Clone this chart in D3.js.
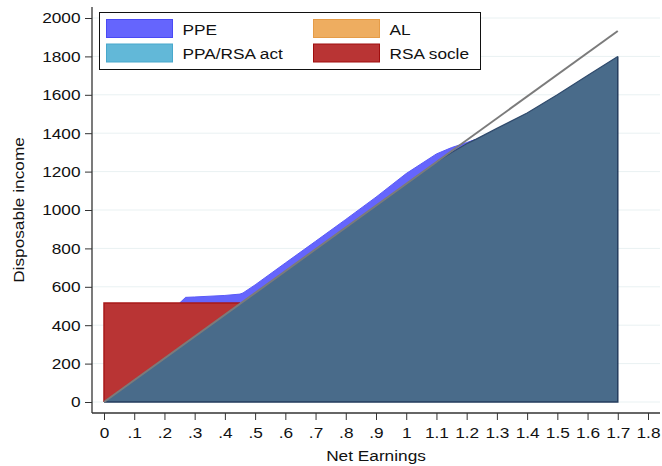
<!DOCTYPE html>
<html><head><meta charset="utf-8">
<script src="https://cdn.jsdelivr.net/npm/d3@7"></script>
<style>body{margin:0;background:#fff}svg{display:block}text{font-family:"Liberation Sans",Arial,sans-serif;fill:#111}</style>
</head><body>
<script>
// Data
const earnings = [0, 0.1, 0.2, 0.25, 0.27, 0.3, 0.4, 0.45, 0.46, 0.5, 0.6, 0.7, 0.8, 0.9, 1.0, 1.1, 1.15, 1.2, 1.23, 1.3, 1.4, 1.5, 1.6, 1.7];
const baseIncome = [0, 114, 227, 284, 307, 341, 454, 511, 523, 568, 682, 795, 909, 1022, 1136, 1250, 1300, 1345, 1368, 1425, 1505, 1600, 1700, 1800];
const rsaSocle   = [515, 401, 288, 231, 208, 174, 61, 4, 0, 0, 0, 0, 0, 0, 0, 0, 0, 0, 0, 0, 0, 0, 0, 0];
const ppe        = [0, 0, 0, 0, 30, 32, 40, 47, 45, 42, 42, 42, 42, 45, 54, 42, 25, 6, 0, 0, 0, 0, 0, 0];
const ppaRsaAct  = earnings.map(() => 0);
const al         = earnings.map(() => 0);
const lineX = [0, 1.7];
const lineY = [0, 1932];
const xTicks = [0, .1, .2, .3, .4, .5, .6, .7, .8, .9, 1, 1.1, 1.2, 1.3, 1.4, 1.5, 1.6, 1.7, 1.8];
const xTickLabels = ["0", ".1", ".2", ".3", ".4", ".5", ".6", ".7", ".8", ".9", "1", "1.1", "1.2", "1.3", "1.4", "1.5", "1.6", "1.7", "1.8"];
const yTicks = [0, 200, 400, 600, 800, 1000, 1200, 1400, 1600, 1800, 2000];
const legendLabels = ["PPE", "AL", "PPA/RSA act", "RSA socle"];

const W = 662, H = 466, SX = 1.12, FS = "15.4px";
const svg = d3.select("body").append("svg").attr("width", W).attr("height", H);
const x = d3.scaleLinear().domain([0, 1.8]).range([104, 648]);
const y = d3.scaleLinear().domain([0, 2000]).range([402, 18]);

// gridlines
svg.append("g").selectAll("line").data(yTicks).join("line")
  .attr("x1", 92).attr("x2", 660).attr("y1", d => y(d)).attr("y2", d => y(d))
  .attr("stroke", "#e9f1f2").attr("stroke-width", 1);

const rows = earnings.map((e, i) => ({ e, b: baseIncome[i], r: rsaSocle[i], p: ppe[i], a: ppaRsaAct[i], l: al[i] }));

const layers = [
  { key: "ppe", fill: "#6565fd", lo: d => d.b + d.r, hi: d => d.b + d.r + d.p },
  { key: "al", fill: "#eead60", lo: d => d.b + d.r + d.p, hi: d => d.b + d.r + d.p + d.l },
  { key: "ppa", fill: "#62b8d8", lo: d => d.b + d.r + d.p + d.l, hi: d => d.b + d.r + d.p + d.l + d.a },
  { key: "rsa", fill: "#b93434", lo: d => d.b, hi: d => d.b + d.r }
];
layers.forEach(L => {
  const ar = d3.area().x(d => x(d.e)).y0(d => y(L.lo(d))).y1(d => y(L.hi(d)));
  svg.append("path").datum(rows).attr("d", ar).attr("fill", L.fill).attr("stroke", "none");
});
// PPE outline
svg.append("path").datum(rows.filter(d => d.e >= 0.25 && d.e <= 1.23))
  .attr("d", d3.line().x(d => x(d.e)).y(d => y(d.b + d.r + d.p)))
  .attr("fill", "none").attr("stroke", "#5a5af8").attr("stroke-width", 1);
// RSA outline: left edge and top
const rsaRows = rows.filter(d => d.r > 0);
svg.append("path")
  .attr("d", d3.line()([[x(0), y(0)], ...rsaRows.map(d => [x(d.e), y(d.b + d.r)])]))
  .attr("fill", "none").attr("stroke", "#a81818").attr("stroke-width", 1.5);

// base area (dark)
svg.append("path").datum(rows).attr("d", d3.area().x(d => x(d.e)).y0(y(0)).y1(d => y(d.b))).attr("fill", "#496b8a");
svg.append("path")
  .attr("d", d3.line()([[x(0), y(0)], [x(1.7), y(0)], [x(1.7), y(baseIncome[baseIncome.length - 1])]]))
  .attr("fill", "none").attr("stroke", "#243d5e").attr("stroke-width", 1.5);
svg.append("path").datum(rows.filter(d => d.e >= 1.1))
  .attr("d", d3.line().x(d => x(d.e)).y(d => y(d.b)))
  .attr("fill", "none").attr("stroke", "#2f4a6c").attr("stroke-width", 1.2);

// grey line
svg.append("path").datum(lineX.map((v, i) => [v, lineY[i]]))
  .attr("d", d3.line().x(d => x(d[0])).y(d => y(d[1])))
  .attr("fill", "none").attr("stroke", "#7b7b7b").attr("stroke-width", 2);

// axes
const yAxis = d3.axisLeft(y).tickValues(yTicks).tickFormat(d3.format("d")).tickSize(7).tickPadding(4).tickSizeOuter(0);
const gy = svg.append("g").attr("transform", "translate(92,0)").call(yAxis);
gy.select(".domain").remove();
gy.selectAll("text").style("font-size", FS).attr("fill", "#111")
  .attr("x", -11.5 / SX).attr("transform", `scale(${SX},1)`);
gy.selectAll("line").attr("stroke", "#333");
svg.append("line").attr("x1", 92).attr("x2", 92).attr("y1", 7).attr("y2", 413).attr("stroke", "#333").attr("stroke-width", 1.3);

const xAxis = d3.axisBottom(x).tickValues(xTicks).tickFormat((d, i) => xTickLabels[i]).tickSize(7).tickPadding(7).tickSizeOuter(0);
const gx = svg.append("g").attr("transform", "translate(0,413)").call(xAxis);
gx.select(".domain").remove();
gx.selectAll("text").style("font-size", FS).attr("fill", "#111").attr("transform", `scale(${SX},1)`);
gx.selectAll("line").attr("stroke", "#333");
svg.append("line").attr("x1", 92).attr("x2", 660).attr("y1", 413).attr("y2", 413).attr("stroke", "#333").attr("stroke-width", 1.3);

svg.append("text").attr("transform", `translate(376,461) scale(${SX},1)`).attr("text-anchor", "middle").style("font-size", FS).text("Net Earnings");
svg.append("text").attr("transform", `translate(24,210) rotate(-90) scale(${SX},1)`).attr("text-anchor", "middle").style("font-size", FS).text("Disposable income");

// legend
const lg = svg.append("g");
lg.append("rect").attr("x", 99.5).attr("y", 12.5).attr("width", 381).attr("height", 57).attr("fill", "#fff").attr("stroke", "#111").attr("stroke-width", 1);
const legColors = [["#6565fd", "#4a4af5"], ["#eead60", "#e59c48"], ["#62b8d8", "#48a8cc"], ["#b93434", "#a00e0e"]];
legendLabels.forEach((lab, i) => {
  const col = i % 2, row = Math.floor(i / 2);
  const sx = col === 0 ? 106 : 313, sy = row === 0 ? 19 : 43.5;
  lg.append("rect").attr("x", sx + 0.5).attr("y", sy + 0.5).attr("width", 66).attr("height", 18)
    .attr("fill", legColors[i][0]).attr("stroke", legColors[i][1]).attr("stroke-width", 1);
  lg.append("text").attr("transform", `translate(${sx + 76.5},${sy + 15.5}) scale(${SX},1)`).style("font-size", FS).text(lab);
});
</script>
</body></html>
